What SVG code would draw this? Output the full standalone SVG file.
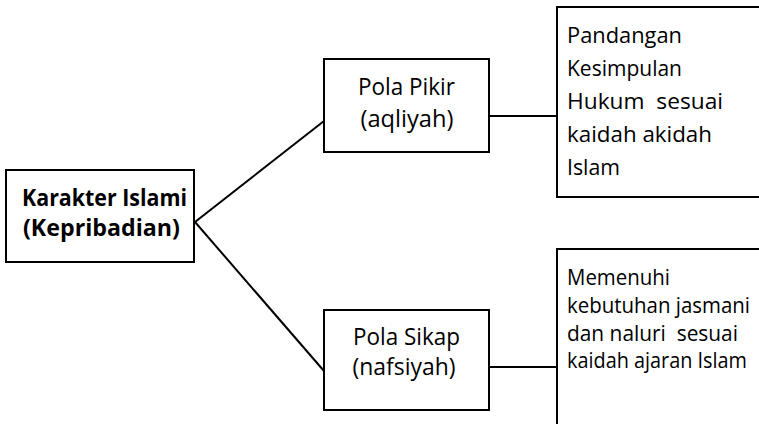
<svg xmlns="http://www.w3.org/2000/svg" width="759" height="424" viewBox="0 0 759 424">
  <style>
    .box { fill: #ffffff; stroke: #000000; stroke-width: 2; }
    .open { fill: none; stroke: #000000; stroke-width: 2; }
    .link { fill: none; stroke: #000000; stroke-width: 2; }
    .t { font-family: "Open Sans", "Noto Sans", "Liberation Sans", sans-serif; fill: #000000; white-space: pre; }
    .root { font-size: 23.5px; font-weight: bold; }
    .mid { font-size: 23px; text-anchor: middle; }
    .note { font-size: 22.5px; }
    .note2 { font-size: 21.5px; }
  </style>
  <rect width="759" height="424" fill="#ffffff"/>

  <g id="connectors">
    <line class="link" x1="195" y1="222" x2="324" y2="121"/>
    <line class="link" x1="195" y1="222" x2="324" y2="371"/>
    <line class="link" x1="489" y1="116" x2="557" y2="116"/>
    <line class="link" x1="489" y1="367" x2="557" y2="367"/>
  </g>

  <g id="karakter-islami">
    <rect class="box" x="6" y="170" width="188" height="92"/>
    <text class="t root" x="22" y="206" textLength="165" lengthAdjust="spacingAndGlyphs">Karakter Islami</text>
    <text class="t root" x="23" y="236" textLength="157" lengthAdjust="spacingAndGlyphs">(Kepribadian)</text>
  </g>

  <g id="pola-pikir">
    <rect class="box" x="324" y="59" width="165" height="93"/>
    <text class="t mid" x="406.5" y="95" textLength="97" lengthAdjust="spacingAndGlyphs">Pola Pikir</text>
    <text class="t mid" x="407" y="127" textLength="93" lengthAdjust="spacingAndGlyphs">(aqliyah)</text>
  </g>

  <g id="pola-sikap">
    <rect class="box" x="324" y="310" width="165" height="100"/>
    <text class="t mid" x="406.5" y="345" textLength="107" lengthAdjust="spacingAndGlyphs">Pola Sikap</text>
    <text class="t mid" x="404" y="375" textLength="103" lengthAdjust="spacingAndGlyphs">(nafsiyah)</text>
  </g>

  <g id="aqliyah-note">
    <path class="open" d="M760,7 H557 V197 H760"/>
    <text class="t note" x="567" y="43" textLength="115" lengthAdjust="spacingAndGlyphs">Pandangan</text>
    <text class="t note" x="567" y="76" textLength="115" lengthAdjust="spacingAndGlyphs">Kesimpulan</text>
    <text class="t note" x="567" y="109" textLength="156" lengthAdjust="spacingAndGlyphs">Hukum  sesuai</text>
    <text class="t note" x="567" y="142" textLength="145" lengthAdjust="spacingAndGlyphs">kaidah akidah</text>
    <text class="t note" x="567" y="175" textLength="53" lengthAdjust="spacingAndGlyphs">Islam</text>
  </g>

  <g id="nafsiyah-note">
    <path class="open" d="M760,249 H557 V426"/>
    <text class="t note2" x="567" y="285" textLength="103" lengthAdjust="spacingAndGlyphs">Memenuhi</text>
    <text class="t note2" x="567" y="313" textLength="183" lengthAdjust="spacingAndGlyphs">kebutuhan jasmani</text>
    <text class="t note2" x="567" y="341" textLength="171" lengthAdjust="spacingAndGlyphs">dan naluri  sesuai</text>
    <text class="t note2" x="567" y="368" textLength="180" lengthAdjust="spacingAndGlyphs">kaidah ajaran Islam</text>
  </g>
</svg>
